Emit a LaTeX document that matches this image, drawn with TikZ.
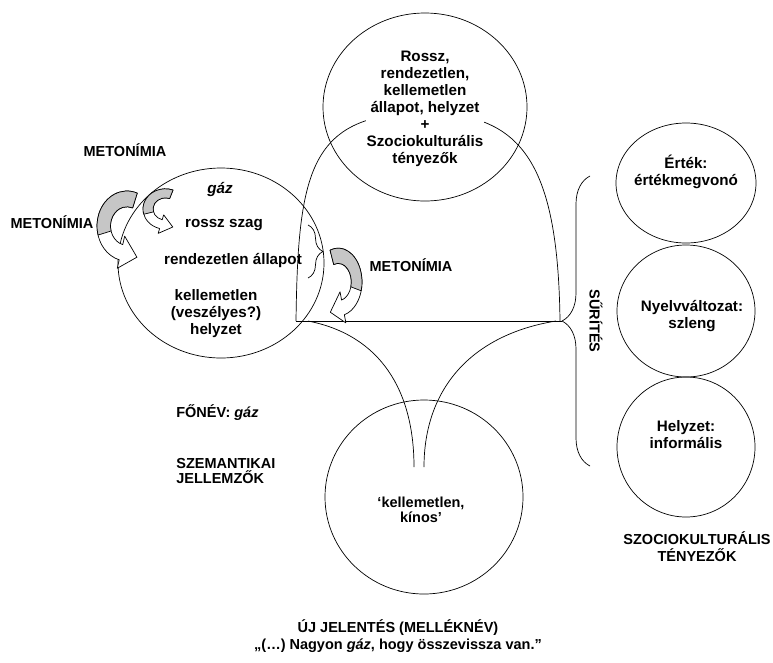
\documentclass[tikz,border=0pt]{standalone}
\usepackage{fontspec}
\setmainfont{Liberation Sans}
\usetikzlibrary{shapes.geometric, decorations.pathreplacing, positioning}
\tikzset{turn arrow/.pic={
    \filldraw[fill=white] (-70:1) arc [start angle=-70, end angle=-255, radius=1]
      -- (105:1.25) -- (0.331,0.891) -- (105:0.3) -- (105:0.55)
      arc [start angle=105, end angle=290, radius=0.55] -- cycle;
    \filldraw[fill=metogray] (-70:1) arc [start angle=-70, end angle=-195, radius=1]
      -- (-195:0.55) arc [start angle=-195, end angle=-70, radius=0.55] -- cycle;
  }}

\begin{document}
\begin{tikzpicture}[x=1pt, y=-1pt, line width=0.7pt, line join=round,
    %Style
    ring/.style={draw, ellipse, inner sep=0pt},
    caption/.style={font=\fontsize{14.5}{17}\selectfont\bfseries, align=center, inner sep=1pt},
    inner caption/.style={caption, font=\fontsize{15.2}{17}\selectfont\bfseries},
    tight caption/.style={caption, font=\fontsize{14.5}{15}\selectfont\bfseries}]
    %Colors
    \colorlet{metogray}{gray!45}
    \useasboundingbox (0,0) rectangle (773,662);

    %Circles
    \node[ring, minimum width=206pt, minimum height=190pt] (gas) at (221,263) {};
    \node[ring, minimum width=204pt, minimum height=188pt] (state) at (425,107) {};
    \node[ring, minimum width=198pt, minimum height=194pt] (meaning) at (424,497) {};
    \node[ring, minimum width=140pt, minimum height=120pt] (value) at (686,183) {};
    \node[ring, minimum width=138pt, minimum height=132pt] (variety) at (686,311) {};
    \node[ring, minimum width=138pt, minimum height=140pt] (register) at (686,447) {};

    %The dome and the two legs
    \coordinate (base west) at (296,321);
    \coordinate (base east) at (560,321);
    \coordinate (brace tip) at (562,321);
    \draw (base west) .. controls (298,170) and (310,113) .. (425,113)
      .. controls (520,113) and (558,160) .. (base east);
    \draw (base west) -- (brace tip);
    \draw (308,321) .. controls (380,335) and (414,390) .. (414,467);
    \draw (556,321) .. controls (470,335) and (424,390) .. (424,467);

    %Braces
    \draw[decorate, decoration={brace, amplitude=28pt}] (590,466) -- (590,176);
    \draw[decorate, decoration={brace, amplitude=15pt}] (308,225) -- (308,278);

    %Curved arrows
    \pic[xscale=30, yscale=35] at (127,226) {turn arrow};
    \pic[xscale=22.4, yscale=20.2] at (165.4,209) {turn arrow};
    \pic[xscale=-23.8, yscale=33.9] at (338.2,282) {turn arrow};

    %Texts
    \node[caption] (meto top) at (125,150) {METONÍMIA};
    \node[caption] (meto left) at (52,222) {METONÍMIA};
    \node[caption] (meto right) at (411,265) {METONÍMIA};
    \node[inner caption] (gas word) at (220,189) {\itshape gáz};
    \node[inner caption] (smell) at (224,225) {rossz szag};
    \node[inner caption] (disorder) at (233,260) {rendezetlen állapot};
    \node[inner caption] (danger) at (216,314) {kellemetlen\\(veszélyes?)\\helyzet};
    \node[inner caption, fill=white] (state text) at (425,109)
      {Rossz,\\rendezetlen,\\kellemetlen\\állapot, helyzet\\+\\Szociokulturális\\tényezők};
    \node[inner caption] (value text) at (686,172) {Érték:\\értékmegvonó};
    \node[inner caption] (variety text) at (692,316) {Nyelvváltozat:\\szleng};
    \node[inner caption] (register text) at (686,435) {Helyzet:\\informális};
    \node[caption, rotate=-90] (condense) at (596,321) {SŰRÍTÉS};
    \node[tight caption] (meaning text) at (421,510) {‘kellemetlen,\\kínos’};
    \node[caption, anchor=west] (noun) at (175,413) {FŐNÉV: \textit{gáz}};
    \node[tight caption, align=left, anchor=north west] (features) at (175,457)
      {SZEMANTIKAI\\JELLEMZŐK};
    \node[caption] (sociocult) at (697,547) {SZOCIOKULTURÁLIS\\TÉNYEZŐK};
    \node[caption] (new meaning) at (398,636)
      {ÚJ JELENTÉS (MELLÉKNÉV)\\„(…) Nagyon \textit{gáz}, hogy összevissza van.”};
\end{tikzpicture}
\end{document}
